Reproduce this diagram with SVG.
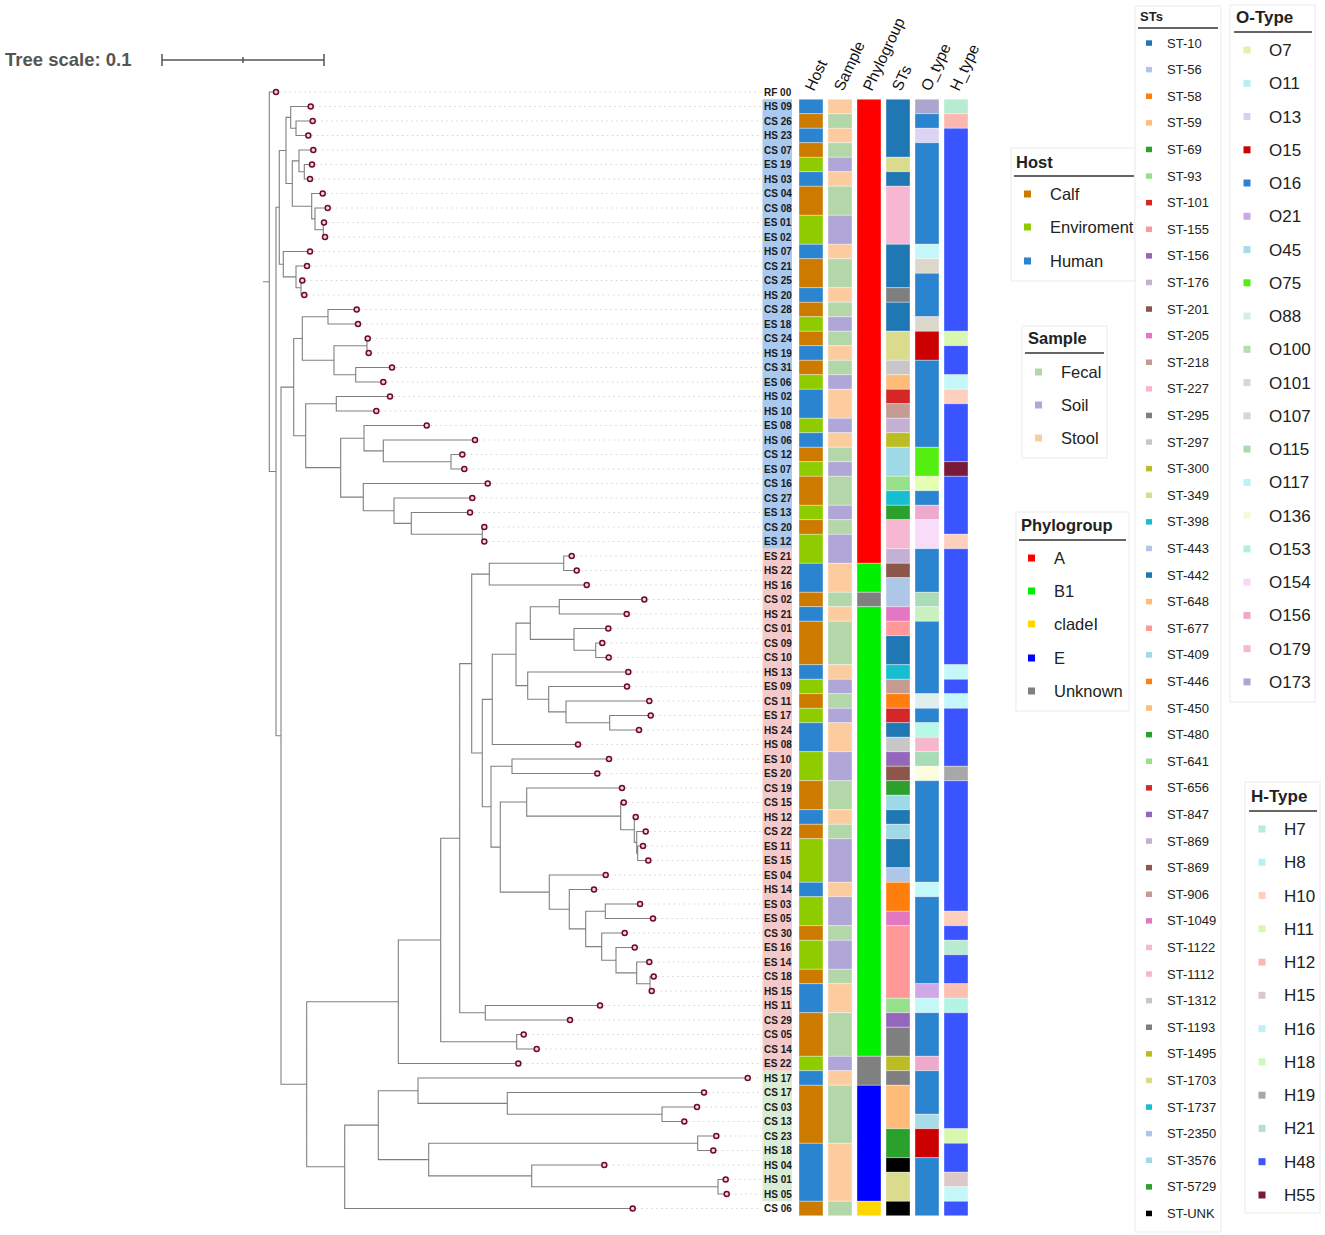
<svg xmlns="http://www.w3.org/2000/svg" width="1325" height="1235" viewBox="0 0 1325 1235">
<style>
text{font-family:"Liberation Sans",Arial,sans-serif}
.tr{fill:none;stroke:#808080;stroke-width:1.1}
.gd{fill:none;stroke:#d4d4d4;stroke-width:1;stroke-dasharray:1.5 3.5}
.tip{fill:#f3d3dc;stroke:#6e0a2e;stroke-width:1.5}
.lb{font-size:10px;font-weight:bold;fill:#1a1a1a}
.hd{font-size:15.5px;fill:#111}
.cl rect{stroke:#ffffff;stroke-opacity:0.45;stroke-width:0.8}
.hH{fill:#2a84d0}.hC{fill:#cc7a00}.hE{fill:#8ecc00}
.sF{fill:#b4d7a9}.sS{fill:#b1a6d8}.sT{fill:#fccc9f}
.pA{fill:#ff0000}.pB{fill:#00f000}.pU{fill:#808080}.pE{fill:#0000ff}.pC{fill:#ffd700}
.oB{fill:#2a84d0}.h48{fill:#3a55ff}
.box{fill:#ffffff;stroke:#ebebeb;stroke-width:1}
.lt{font-weight:bold;fill:#222}
.ul{stroke:#333;stroke-width:1.3}
.l16{font-size:16.5px;fill:#222}
.l13{font-size:13px;fill:#222}
.l17{font-size:17px;fill:#222}
</style>

<g id="scale">
<text x="5" y="66" style="font-size:18.5px;font-weight:bold;fill:#555">Tree scale: 0.1</text>
<path d="M162,60H324M162,54V66M324,54V66M243,57V63" stroke="#555" stroke-width="1.5" fill="none"/>
</g>

<g id="connectors">
<path class="gd" d="M279.5,92H761M314.2,106.5H761M316.2,121H761M311.8,135.5H761M316.8,150H761M315.5,164.5H761M313.5,179H761M326.2,193.5H761M331.2,208H761M327.5,222.5H761M328.5,237H761M313.5,251.5H761M310.5,266H761M305.8,280.5H761M307.8,295H761M360.2,309.5H761M361.5,324H761M371.2,338.5H761M372.2,353H761M395.5,367.5H761M386.8,382H761M393.5,396.5H761M379.8,411H761M430.2,425.5H761M478.5,440H761M465.8,454.5H761M467.8,469H761M491.2,483.5H761M475.8,498H761M473.5,512.5H761M487.8,527H761M487.8,541.5H761M575.2,556H761M580.2,570.5H761M590.2,585H761M647.8,599.5H761M630.2,614H761M611.8,628.5H761M605.8,643H761M612.2,657.5H761M631.8,672H761M630.5,686.5H761M652.8,701H761M654.2,715.5H761M642.5,730H761M581.5,744.5H761M612.5,759H761M600.8,773.5H761M625.5,788H761M627.2,802.5H761M639.2,817H761M649.2,831.5H761M646.5,846H761M651.8,860.5H761M609.2,875H761M597.5,889.5H761M643.5,904H761M656.5,918.5H761M628.2,933H761M638.2,947.5H761M652.8,962H761M657.2,976.5H761M655.2,991H761M603.5,1005.5H761M573.5,1020H761M527.2,1034.5H761M540.2,1049H761M521.8,1063.5H761M751.2,1078H761M707.5,1092.5H761M700.5,1107H761M687.8,1121.5H761M719.8,1136H761M716.8,1150.5H761M607.8,1165H761M729.2,1179.5H761M730.2,1194H761M636.2,1208.5H761"/>
<path class="tr" d="M276,92H269.3V471.5H276M263,281.75H269.3
M279.3,207.3H276V735.7H281
M286,150.5H279.3V264.2H283.3
M290.7,117.4H286V183.5H292.3
M310.7,106.5H290.7V128.25H296
M312.7,121H296V135.5H308.3
M299,160.9H292.3V206.2H311.7
M313.3,150H299V171.75H304.3
M312,164.5H304.3V179H310
M322.7,193.5H311.7V218.9H315
M327.7,208H315V229.75H323.3
M324,222.5H323.3V237H325
M310,251.5H283.3V276.9H296
M307,266H296V287.75H301
M302.3,280.5H301V295H304.3
M293.7,387.1H281V1084.3H306.7
M302.3,338.5H293.7V435.7H305.7
M328,316.75H302.3V360.25H334
M356.7,309.5H328V324H358
M367,345.75H334V374.75H355.7
M367.7,338.5H367V353H368.7
M392,367.5H355.7V382H383.3
M336.3,403.75H305.7V467.6H340.7
M390,396.5H336.3V411H376.3
M364,438.2H340.7V497.1H363.3
M426.7,425.5H364V450.9H383.3
M475,440H383.3V461.75H451
M462.3,454.5H451V469H464.3
M487.7,483.5H363.3V510.7H394
M472.3,498H394V523.4H411.3
M470,512.5H411.3V534.25H482.3
M484.3,527H482.3V541.5H484.3
M398.3,1001.75H306.7V1166.8H344.7
M440.7,940H398.3V1063.5H518.3
M459.7,838.2H440.7V1041.75H516.7
M523.7,1034.5H516.7V1049H536.7
M471.7,663.6H459.7V1012.75H485.3
M600,1005.5H485.3V1020H570
M489.3,574.1H471.7V753.05H482.3
M563.7,563.25H489.3V585H586.7
M571.7,556H563.7V570.5H576.7
M492.3,699.4H482.3V806.7H491
M516,654.3H492.3V744.5H578
M530.3,623.1H516V685.6H527.7
M559.3,606.75H530.3V639.4H574
M644.3,599.5H559.3V614H626.7
M608.3,628.5H574V650.25H595.7
M602.3,643H595.7V657.5H608.7
M628.3,672H527.7V699.2H548.7
M627,686.5H548.7V711.9H566
M649.3,701H566V722.75H609.7
M650.7,715.5H609.7V730H639
M512,766.25H491V847.1H500.3
M609,759H512V773.5H597.3
M526.7,802.05H500.3V892.1H549.3
M622,788H526.7V816.1H620.7
M623.7,802.5H620.7V829.7H634.3
M635.7,817H634.3V842.4H636.7
M645.7,831.5H636.7V853.25H637.7
M643,846H637.7V860.5H648.3
M605.7,875H549.3V909.2H569.3
M594,889.5H569.3V928.9H585.7
M605.3,911.25H585.7V946.6H601.7
M640,904H605.3V918.5H653
M624.7,933H601.7V960.2H616
M634.7,947.5H616V972.9H636.7
M649.3,962H636.7V983.75H650
M653.7,976.5H650V991H651.7
M378.3,1125.1H344.7V1208.5H632.7
M418,1090.7H378.3V1159.6H428.7
M747.7,1078H418V1103.4H507.3
M704,1092.5H507.3V1114.25H662
M697,1107H662V1121.5H684.3
M697.7,1143.25H428.7V1175.9H531.7
M716.3,1136H697.7V1150.5H713.3
M604.3,1165H531.7V1186.75H718
M725.7,1179.5H718V1194H726.7"/>
</g>

<g id="tips">
<circle class="tip" r="2.5" cx="276" cy="92"/><circle class="tip" r="2.5" cx="310.7" cy="106.5"/><circle class="tip" r="2.5" cx="312.7" cy="121"/><circle class="tip" r="2.5" cx="308.3" cy="135.5"/><circle class="tip" r="2.5" cx="313.3" cy="150"/><circle class="tip" r="2.5" cx="312" cy="164.5"/><circle class="tip" r="2.5" cx="310" cy="179"/><circle class="tip" r="2.5" cx="322.7" cy="193.5"/><circle class="tip" r="2.5" cx="327.7" cy="208"/><circle class="tip" r="2.5" cx="324" cy="222.5"/><circle class="tip" r="2.5" cx="325" cy="237"/><circle class="tip" r="2.5" cx="310" cy="251.5"/><circle class="tip" r="2.5" cx="307" cy="266"/><circle class="tip" r="2.5" cx="302.3" cy="280.5"/><circle class="tip" r="2.5" cx="304.3" cy="295"/><circle class="tip" r="2.5" cx="356.7" cy="309.5"/><circle class="tip" r="2.5" cx="358" cy="324"/><circle class="tip" r="2.5" cx="367.7" cy="338.5"/><circle class="tip" r="2.5" cx="368.7" cy="353"/><circle class="tip" r="2.5" cx="392" cy="367.5"/><circle class="tip" r="2.5" cx="383.3" cy="382"/><circle class="tip" r="2.5" cx="390" cy="396.5"/><circle class="tip" r="2.5" cx="376.3" cy="411"/><circle class="tip" r="2.5" cx="426.7" cy="425.5"/><circle class="tip" r="2.5" cx="475" cy="440"/><circle class="tip" r="2.5" cx="462.3" cy="454.5"/><circle class="tip" r="2.5" cx="464.3" cy="469"/><circle class="tip" r="2.5" cx="487.7" cy="483.5"/><circle class="tip" r="2.5" cx="472.3" cy="498"/><circle class="tip" r="2.5" cx="470" cy="512.5"/><circle class="tip" r="2.5" cx="484.3" cy="527"/><circle class="tip" r="2.5" cx="484.3" cy="541.5"/><circle class="tip" r="2.5" cx="571.7" cy="556"/><circle class="tip" r="2.5" cx="576.7" cy="570.5"/><circle class="tip" r="2.5" cx="586.7" cy="585"/><circle class="tip" r="2.5" cx="644.3" cy="599.5"/><circle class="tip" r="2.5" cx="626.7" cy="614"/><circle class="tip" r="2.5" cx="608.3" cy="628.5"/><circle class="tip" r="2.5" cx="602.3" cy="643"/><circle class="tip" r="2.5" cx="608.7" cy="657.5"/><circle class="tip" r="2.5" cx="628.3" cy="672"/><circle class="tip" r="2.5" cx="627" cy="686.5"/><circle class="tip" r="2.5" cx="649.3" cy="701"/><circle class="tip" r="2.5" cx="650.7" cy="715.5"/><circle class="tip" r="2.5" cx="639" cy="730"/><circle class="tip" r="2.5" cx="578" cy="744.5"/><circle class="tip" r="2.5" cx="609" cy="759"/><circle class="tip" r="2.5" cx="597.3" cy="773.5"/><circle class="tip" r="2.5" cx="622" cy="788"/><circle class="tip" r="2.5" cx="623.7" cy="802.5"/><circle class="tip" r="2.5" cx="635.7" cy="817"/><circle class="tip" r="2.5" cx="645.7" cy="831.5"/><circle class="tip" r="2.5" cx="643" cy="846"/><circle class="tip" r="2.5" cx="648.3" cy="860.5"/><circle class="tip" r="2.5" cx="605.7" cy="875"/><circle class="tip" r="2.5" cx="594" cy="889.5"/><circle class="tip" r="2.5" cx="640" cy="904"/><circle class="tip" r="2.5" cx="653" cy="918.5"/><circle class="tip" r="2.5" cx="624.7" cy="933"/><circle class="tip" r="2.5" cx="634.7" cy="947.5"/><circle class="tip" r="2.5" cx="649.3" cy="962"/><circle class="tip" r="2.5" cx="653.7" cy="976.5"/><circle class="tip" r="2.5" cx="651.7" cy="991"/><circle class="tip" r="2.5" cx="600" cy="1005.5"/><circle class="tip" r="2.5" cx="570" cy="1020"/><circle class="tip" r="2.5" cx="523.7" cy="1034.5"/><circle class="tip" r="2.5" cx="536.7" cy="1049"/><circle class="tip" r="2.5" cx="518.3" cy="1063.5"/><circle class="tip" r="2.5" cx="747.7" cy="1078"/><circle class="tip" r="2.5" cx="704" cy="1092.5"/><circle class="tip" r="2.5" cx="697" cy="1107"/><circle class="tip" r="2.5" cx="684.3" cy="1121.5"/><circle class="tip" r="2.5" cx="716.3" cy="1136"/><circle class="tip" r="2.5" cx="713.3" cy="1150.5"/><circle class="tip" r="2.5" cx="604.3" cy="1165"/><circle class="tip" r="2.5" cx="725.7" cy="1179.5"/><circle class="tip" r="2.5" cx="726.7" cy="1194"/><circle class="tip" r="2.5" cx="632.7" cy="1208.5"/>
</g>

<g id="labelbg">
<rect x="762.5" y="99.25" width="29.5" height="449.5" fill="#a9c9ee"/>
<rect x="762.5" y="548.75" width="29.5" height="522" fill="#f5c9c9"/>
<rect x="762.5" y="1070.75" width="29.5" height="130.5" fill="#d9ecd6"/>
</g>

<g id="labels" class="lb">
<text x="764" y="95.5">RF 00</text><text x="764" y="110">HS 09</text><text x="764" y="124.5">CS 26</text><text x="764" y="139">HS 23</text><text x="764" y="153.5">CS 07</text><text x="764" y="168">ES 19</text><text x="764" y="182.5">HS 03</text><text x="764" y="197">CS 04</text><text x="764" y="211.5">CS 08</text><text x="764" y="226">ES 01</text><text x="764" y="240.5">ES 02</text><text x="764" y="255">HS 07</text><text x="764" y="269.5">CS 21</text><text x="764" y="284">CS 25</text><text x="764" y="298.5">HS 20</text><text x="764" y="313">CS 28</text><text x="764" y="327.5">ES 18</text><text x="764" y="342">CS 24</text><text x="764" y="356.5">HS 19</text><text x="764" y="371">CS 31</text><text x="764" y="385.5">ES 06</text><text x="764" y="400">HS 02</text><text x="764" y="414.5">HS 10</text><text x="764" y="429">ES 08</text><text x="764" y="443.5">HS 06</text><text x="764" y="458">CS 12</text><text x="764" y="472.5">ES 07</text><text x="764" y="487">CS 16</text><text x="764" y="501.5">CS 27</text><text x="764" y="516">ES 13</text><text x="764" y="530.5">CS 20</text><text x="764" y="545">ES 12</text><text x="764" y="559.5">ES 21</text><text x="764" y="574">HS 22</text><text x="764" y="588.5">HS 16</text><text x="764" y="603">CS 02</text><text x="764" y="617.5">HS 21</text><text x="764" y="632">CS 01</text><text x="764" y="646.5">CS 09</text><text x="764" y="661">CS 10</text><text x="764" y="675.5">HS 13</text><text x="764" y="690">ES 09</text><text x="764" y="704.5">CS 11</text><text x="764" y="719">ES 17</text><text x="764" y="733.5">HS 24</text><text x="764" y="748">HS 08</text><text x="764" y="762.5">ES 10</text><text x="764" y="777">ES 20</text><text x="764" y="791.5">CS 19</text><text x="764" y="806">CS 15</text><text x="764" y="820.5">HS 12</text><text x="764" y="835">CS 22</text><text x="764" y="849.5">ES 11</text><text x="764" y="864">ES 15</text><text x="764" y="878.5">ES 04</text><text x="764" y="893">HS 14</text><text x="764" y="907.5">ES 03</text><text x="764" y="922">ES 05</text><text x="764" y="936.5">CS 30</text><text x="764" y="951">ES 16</text><text x="764" y="965.5">ES 14</text><text x="764" y="980">CS 18</text><text x="764" y="994.5">HS 15</text><text x="764" y="1009">HS 11</text><text x="764" y="1023.5">CS 29</text><text x="764" y="1038">CS 05</text><text x="764" y="1052.5">CS 14</text><text x="764" y="1067">ES 22</text><text x="764" y="1081.5">HS 17</text><text x="764" y="1096">CS 17</text><text x="764" y="1110.5">CS 03</text><text x="764" y="1125">CS 13</text><text x="764" y="1139.5">CS 23</text><text x="764" y="1154">HS 18</text><text x="764" y="1168.5">HS 04</text><text x="764" y="1183">HS 01</text><text x="764" y="1197.5">HS 05</text><text x="764" y="1212">CS 06</text>
</g>

<g id="headers" class="hd">
<text transform="translate(814,92) rotate(-65)">Host</text>
<text transform="translate(843,92) rotate(-65)">Sample</text>
<text transform="translate(872,92) rotate(-65)">Phylogroup</text>
<text transform="translate(901,92) rotate(-65)">STs</text>
<text transform="translate(930,92) rotate(-65)">O_type</text>
<text transform="translate(959,92) rotate(-65)">H_type</text>
</g>

<g id="col-host" class="cl">
<rect x="799" width="24" y="99.25" height="14.5" class="hH"/><rect x="799" width="24" y="113.75" height="14.5" class="hC"/><rect x="799" width="24" y="128.25" height="14.5" class="hH"/><rect x="799" width="24" y="142.75" height="14.5" class="hC"/><rect x="799" width="24" y="157.25" height="14.5" class="hE"/><rect x="799" width="24" y="171.75" height="14.5" class="hH"/><rect x="799" width="24" y="186.25" height="29" class="hC"/><rect x="799" width="24" y="215.25" height="29" class="hE"/><rect x="799" width="24" y="244.25" height="14.5" class="hH"/><rect x="799" width="24" y="258.75" height="29" class="hC"/><rect x="799" width="24" y="287.75" height="14.5" class="hH"/><rect x="799" width="24" y="302.25" height="14.5" class="hC"/><rect x="799" width="24" y="316.75" height="14.5" class="hE"/><rect x="799" width="24" y="331.25" height="14.5" class="hC"/><rect x="799" width="24" y="345.75" height="14.5" class="hH"/><rect x="799" width="24" y="360.25" height="14.5" class="hC"/><rect x="799" width="24" y="374.75" height="14.5" class="hE"/><rect x="799" width="24" y="389.25" height="29" class="hH"/><rect x="799" width="24" y="418.25" height="14.5" class="hE"/><rect x="799" width="24" y="432.75" height="14.5" class="hH"/><rect x="799" width="24" y="447.25" height="14.5" class="hC"/><rect x="799" width="24" y="461.75" height="14.5" class="hE"/><rect x="799" width="24" y="476.25" height="29" class="hC"/><rect x="799" width="24" y="505.25" height="14.5" class="hE"/><rect x="799" width="24" y="519.75" height="14.5" class="hC"/><rect x="799" width="24" y="534.25" height="29" class="hE"/><rect x="799" width="24" y="563.25" height="29" class="hH"/><rect x="799" width="24" y="592.25" height="14.5" class="hC"/><rect x="799" width="24" y="606.75" height="14.5" class="hH"/><rect x="799" width="24" y="621.25" height="43.5" class="hC"/><rect x="799" width="24" y="664.75" height="14.5" class="hH"/><rect x="799" width="24" y="679.25" height="14.5" class="hE"/><rect x="799" width="24" y="693.75" height="14.5" class="hC"/><rect x="799" width="24" y="708.25" height="14.5" class="hE"/><rect x="799" width="24" y="722.75" height="29" class="hH"/><rect x="799" width="24" y="751.75" height="29" class="hE"/><rect x="799" width="24" y="780.75" height="29" class="hC"/><rect x="799" width="24" y="809.75" height="14.5" class="hH"/><rect x="799" width="24" y="824.25" height="14.5" class="hC"/><rect x="799" width="24" y="838.75" height="43.5" class="hE"/><rect x="799" width="24" y="882.25" height="14.5" class="hH"/><rect x="799" width="24" y="896.75" height="29" class="hE"/><rect x="799" width="24" y="925.75" height="14.5" class="hC"/><rect x="799" width="24" y="940.25" height="29" class="hE"/><rect x="799" width="24" y="969.25" height="14.5" class="hC"/><rect x="799" width="24" y="983.75" height="29" class="hH"/><rect x="799" width="24" y="1012.75" height="43.5" class="hC"/><rect x="799" width="24" y="1056.25" height="14.5" class="hE"/><rect x="799" width="24" y="1070.75" height="14.5" class="hH"/><rect x="799" width="24" y="1085.25" height="58" class="hC"/><rect x="799" width="24" y="1143.25" height="58" class="hH"/><rect x="799" width="24" y="1201.25" height="14.5" class="hC"/>
</g>

<g id="col-sample" class="cl">
<rect x="828" width="24" y="99.25" height="14.5" class="sT"/><rect x="828" width="24" y="113.75" height="14.5" class="sF"/><rect x="828" width="24" y="128.25" height="14.5" class="sT"/><rect x="828" width="24" y="142.75" height="14.5" class="sF"/><rect x="828" width="24" y="157.25" height="14.5" class="sS"/><rect x="828" width="24" y="171.75" height="14.5" class="sT"/><rect x="828" width="24" y="186.25" height="29" class="sF"/><rect x="828" width="24" y="215.25" height="29" class="sS"/><rect x="828" width="24" y="244.25" height="14.5" class="sT"/><rect x="828" width="24" y="258.75" height="29" class="sF"/><rect x="828" width="24" y="287.75" height="14.5" class="sT"/><rect x="828" width="24" y="302.25" height="14.5" class="sF"/><rect x="828" width="24" y="316.75" height="14.5" class="sS"/><rect x="828" width="24" y="331.25" height="14.5" class="sF"/><rect x="828" width="24" y="345.75" height="14.5" class="sT"/><rect x="828" width="24" y="360.25" height="14.5" class="sF"/><rect x="828" width="24" y="374.75" height="14.5" class="sS"/><rect x="828" width="24" y="389.25" height="29" class="sT"/><rect x="828" width="24" y="418.25" height="14.5" class="sS"/><rect x="828" width="24" y="432.75" height="14.5" class="sT"/><rect x="828" width="24" y="447.25" height="14.5" class="sF"/><rect x="828" width="24" y="461.75" height="14.5" class="sS"/><rect x="828" width="24" y="476.25" height="29" class="sF"/><rect x="828" width="24" y="505.25" height="14.5" class="sS"/><rect x="828" width="24" y="519.75" height="14.5" class="sF"/><rect x="828" width="24" y="534.25" height="29" class="sS"/><rect x="828" width="24" y="563.25" height="29" class="sT"/><rect x="828" width="24" y="592.25" height="14.5" class="sF"/><rect x="828" width="24" y="606.75" height="14.5" class="sT"/><rect x="828" width="24" y="621.25" height="43.5" class="sF"/><rect x="828" width="24" y="664.75" height="14.5" class="sT"/><rect x="828" width="24" y="679.25" height="14.5" class="sS"/><rect x="828" width="24" y="693.75" height="14.5" class="sF"/><rect x="828" width="24" y="708.25" height="14.5" class="sS"/><rect x="828" width="24" y="722.75" height="29" class="sT"/><rect x="828" width="24" y="751.75" height="29" class="sS"/><rect x="828" width="24" y="780.75" height="29" class="sF"/><rect x="828" width="24" y="809.75" height="14.5" class="sT"/><rect x="828" width="24" y="824.25" height="14.5" class="sF"/><rect x="828" width="24" y="838.75" height="43.5" class="sS"/><rect x="828" width="24" y="882.25" height="14.5" class="sT"/><rect x="828" width="24" y="896.75" height="29" class="sS"/><rect x="828" width="24" y="925.75" height="14.5" class="sF"/><rect x="828" width="24" y="940.25" height="29" class="sS"/><rect x="828" width="24" y="969.25" height="14.5" class="sF"/><rect x="828" width="24" y="983.75" height="29" class="sT"/><rect x="828" width="24" y="1012.75" height="43.5" class="sF"/><rect x="828" width="24" y="1056.25" height="14.5" class="sS"/><rect x="828" width="24" y="1070.75" height="14.5" class="sT"/><rect x="828" width="24" y="1085.25" height="58" class="sF"/><rect x="828" width="24" y="1143.25" height="58" class="sT"/><rect x="828" width="24" y="1201.25" height="14.5" class="sF"/>
</g>

<g id="col-phylo" class="cl">
<rect x="857" width="24" y="99.25" height="464" class="pA"/>
<rect x="857" width="24" y="563.25" height="29" class="pB"/>
<rect x="857" width="24" y="592.25" height="14.5" class="pU"/>
<rect x="857" width="24" y="606.75" height="449.5" class="pB"/>
<rect x="857" width="24" y="1056.25" height="29" class="pU"/>
<rect x="857" width="24" y="1085.25" height="116" class="pE"/>
<rect x="857" width="24" y="1201.25" height="14.5" class="pC"/>
</g>

<g id="col-sts" class="cl">
<rect x="886" width="24" y="99.25" height="58" fill="#1f77b4"/><rect x="886" width="24" y="157.25" height="14.5" fill="#dbdb8d"/><rect x="886" width="24" y="171.75" height="14.5" fill="#1f77b4"/><rect x="886" width="24" y="186.25" height="58" fill="#f7b6d2"/><rect x="886" width="24" y="244.25" height="43.5" fill="#1f77b4"/><rect x="886" width="24" y="287.75" height="14.5" fill="#7f7f7f"/><rect x="886" width="24" y="302.25" height="29" fill="#1f77b4"/><rect x="886" width="24" y="331.25" height="29" fill="#dbdb8d"/><rect x="886" width="24" y="360.25" height="14.5" fill="#c7c7c7"/><rect x="886" width="24" y="374.75" height="14.5" fill="#ffbb78"/><rect x="886" width="24" y="389.25" height="14.5" fill="#d62728"/><rect x="886" width="24" y="403.75" height="14.5" fill="#c49c94"/><rect x="886" width="24" y="418.25" height="14.5" fill="#c5b0d5"/><rect x="886" width="24" y="432.75" height="14.5" fill="#bcbd22"/><rect x="886" width="24" y="447.25" height="29" fill="#9edae5"/><rect x="886" width="24" y="476.25" height="14.5" fill="#98df8a"/><rect x="886" width="24" y="490.75" height="14.5" fill="#17becf"/><rect x="886" width="24" y="505.25" height="14.5" fill="#2ca02c"/><rect x="886" width="24" y="519.75" height="29" fill="#f7b6d2"/><rect x="886" width="24" y="548.75" height="14.5" fill="#c5b0d5"/><rect x="886" width="24" y="563.25" height="14.5" fill="#8c564b"/><rect x="886" width="24" y="577.75" height="29" fill="#aec7e8"/><rect x="886" width="24" y="606.75" height="14.5" fill="#e377c2"/><rect x="886" width="24" y="621.25" height="14.5" fill="#ff9896"/><rect x="886" width="24" y="635.75" height="29" fill="#1f77b4"/><rect x="886" width="24" y="664.75" height="14.5" fill="#17becf"/><rect x="886" width="24" y="679.25" height="14.5" fill="#c49c94"/><rect x="886" width="24" y="693.75" height="14.5" fill="#ff7f0e"/><rect x="886" width="24" y="708.25" height="14.5" fill="#d62728"/><rect x="886" width="24" y="722.75" height="14.5" fill="#1f77b4"/><rect x="886" width="24" y="737.25" height="14.5" fill="#c7c7c7"/><rect x="886" width="24" y="751.75" height="14.5" fill="#9467bd"/><rect x="886" width="24" y="766.25" height="14.5" fill="#8c564b"/><rect x="886" width="24" y="780.75" height="14.5" fill="#2ca02c"/><rect x="886" width="24" y="795.25" height="14.5" fill="#9edae5"/><rect x="886" width="24" y="809.75" height="14.5" fill="#1f77b4"/><rect x="886" width="24" y="824.25" height="14.5" fill="#9edae5"/><rect x="886" width="24" y="838.75" height="29" fill="#1f77b4"/><rect x="886" width="24" y="867.75" height="14.5" fill="#aec7e8"/><rect x="886" width="24" y="882.25" height="29" fill="#ff7f0e"/><rect x="886" width="24" y="911.25" height="14.5" fill="#e377c2"/><rect x="886" width="24" y="925.75" height="72.5" fill="#ff9896"/><rect x="886" width="24" y="998.25" height="14.5" fill="#98df8a"/><rect x="886" width="24" y="1012.75" height="14.5" fill="#9467bd"/><rect x="886" width="24" y="1027.25" height="29" fill="#7f7f7f"/><rect x="886" width="24" y="1056.25" height="14.5" fill="#bcbd22"/><rect x="886" width="24" y="1070.75" height="14.5" fill="#7f7f7f"/><rect x="886" width="24" y="1085.25" height="43.5" fill="#ffbb78"/><rect x="886" width="24" y="1128.75" height="29" fill="#2ca02c"/><rect x="886" width="24" y="1157.75" height="14.5" fill="#000000"/><rect x="886" width="24" y="1172.25" height="29" fill="#dbdb8d"/><rect x="886" width="24" y="1201.25" height="14.5" fill="#000000"/>
</g>

<g id="col-otype" class="cl">
<rect x="915" width="24" y="99.25" height="14.5" fill="#aaa6cc"/><rect x="915" width="24" y="113.75" height="14.5" class="oB"/><rect x="915" width="24" y="128.25" height="14.5" fill="#dcd4f4"/><rect x="915" width="24" y="142.75" height="101.5" class="oB"/><rect x="915" width="24" y="244.25" height="14.5" fill="#c4f8f8"/><rect x="915" width="24" y="258.75" height="14.5" fill="#dcd8cc"/><rect x="915" width="24" y="273.25" height="43.5" class="oB"/><rect x="915" width="24" y="316.75" height="14.5" fill="#dcd8cc"/><rect x="915" width="24" y="331.25" height="29" fill="#cc0000"/><rect x="915" width="24" y="360.25" height="87" class="oB"/><rect x="915" width="24" y="447.25" height="29" fill="#55ee11"/><rect x="915" width="24" y="476.25" height="14.5" fill="#e4ffb4"/><rect x="915" width="24" y="490.75" height="14.5" class="oB"/><rect x="915" width="24" y="505.25" height="14.5" fill="#eeaacc"/><rect x="915" width="24" y="519.75" height="29" fill="#f8dcf8"/><rect x="915" width="24" y="548.75" height="43.5" class="oB"/><rect x="915" width="24" y="592.25" height="14.5" fill="#aadcb8"/><rect x="915" width="24" y="606.75" height="14.5" fill="#c8f0c0"/><rect x="915" width="24" y="621.25" height="72.5" class="oB"/><rect x="915" width="24" y="693.75" height="14.5" fill="#e0eeee"/><rect x="915" width="24" y="708.25" height="14.5" class="oB"/><rect x="915" width="24" y="722.75" height="14.5" fill="#b8f8e8"/><rect x="915" width="24" y="737.25" height="14.5" fill="#f8b8cc"/><rect x="915" width="24" y="751.75" height="14.5" fill="#a8dcb4"/><rect x="915" width="24" y="766.25" height="14.5" fill="#fcfce0"/><rect x="915" width="24" y="780.75" height="101.5" class="oB"/><rect x="915" width="24" y="882.25" height="14.5" fill="#c4f8f8"/><rect x="915" width="24" y="896.75" height="87" class="oB"/><rect x="915" width="24" y="983.75" height="14.5" fill="#d0a8e8"/><rect x="915" width="24" y="998.25" height="14.5" fill="#c4f8f8"/><rect x="915" width="24" y="1012.75" height="43.5" class="oB"/><rect x="915" width="24" y="1056.25" height="14.5" fill="#eeaacc"/><rect x="915" width="24" y="1070.75" height="43.5" class="oB"/><rect x="915" width="24" y="1114.25" height="14.5" fill="#a8dce8"/><rect x="915" width="24" y="1128.75" height="29" fill="#cc0000"/><rect x="915" width="24" y="1157.75" height="58" class="oB"/>
</g>

<g id="col-htype" class="cl">
<rect x="944" width="24" y="99.25" height="14.5" fill="#b8ecd0"/><rect x="944" width="24" y="113.75" height="14.5" fill="#fcb8b0"/><rect x="944" width="24" y="128.25" height="203" class="h48"/><rect x="944" width="24" y="331.25" height="14.5" fill="#d8f8b0"/><rect x="944" width="24" y="345.75" height="29" class="h48"/><rect x="944" width="24" y="374.75" height="14.5" fill="#c4f8f8"/><rect x="944" width="24" y="389.25" height="14.5" fill="#fcd0bc"/><rect x="944" width="24" y="403.75" height="58" class="h48"/><rect x="944" width="24" y="461.75" height="14.5" fill="#7a1a3a"/><rect x="944" width="24" y="476.25" height="58" class="h48"/><rect x="944" width="24" y="534.25" height="14.5" fill="#fcd0bc"/><rect x="944" width="24" y="548.75" height="116" class="h48"/><rect x="944" width="24" y="664.75" height="14.5" fill="#c4f8f8"/><rect x="944" width="24" y="679.25" height="14.5" class="h48"/><rect x="944" width="24" y="693.75" height="14.5" fill="#c4f8f8"/><rect x="944" width="24" y="708.25" height="58" class="h48"/><rect x="944" width="24" y="766.25" height="14.5" fill="#a8a8a8"/><rect x="944" width="24" y="780.75" height="130.5" class="h48"/><rect x="944" width="24" y="911.25" height="14.5" fill="#fcd0bc"/><rect x="944" width="24" y="925.75" height="14.5" class="h48"/><rect x="944" width="24" y="940.25" height="14.5" fill="#b8ecd0"/><rect x="944" width="24" y="954.75" height="29" class="h48"/><rect x="944" width="24" y="983.75" height="14.5" fill="#fcc0b0"/><rect x="944" width="24" y="998.25" height="14.5" fill="#b0f4e4"/><rect x="944" width="24" y="1012.75" height="116" class="h48"/><rect x="944" width="24" y="1128.75" height="14.5" fill="#d8f8b0"/><rect x="944" width="24" y="1143.25" height="29" class="h48"/><rect x="944" width="24" y="1172.25" height="14.5" fill="#dcc8c8"/><rect x="944" width="24" y="1186.75" height="14.5" fill="#c4f8f8"/><rect x="944" width="24" y="1201.25" height="14.5" class="h48"/>
</g>

<g id="legend-host">
<rect class="box" x="1011" y="148" width="124" height="133"/>
<text class="lt" x="1016" y="168" font-size="16.5">Host</text>
<line class="ul" x1="1014" y1="176" x2="1134" y2="176"/>
<rect x="1024" y="190.5" width="7" height="7" class="hC"/><text class="l16" x="1050" y="200">Calf</text>
<rect x="1024" y="223.5" width="7" height="7" class="hE"/><text class="l16" x="1050" y="233">Enviroment</text>
<rect x="1024" y="257.5" width="7" height="7" class="hH"/><text class="l16" x="1050" y="267">Human</text>
</g>

<g id="legend-sample">
<rect class="box" x="1022" y="326" width="85" height="132"/>
<text class="lt" x="1028" y="344" font-size="16.5">Sample</text>
<line class="ul" x1="1025" y1="353" x2="1104" y2="353"/>
<rect x="1035" y="368.5" width="7" height="7" class="sF"/><text class="l16" x="1061" y="378">Fecal</text>
<rect x="1035" y="401.5" width="7" height="7" class="sS"/><text class="l16" x="1061" y="411">Soil</text>
<rect x="1035" y="434.5" width="7" height="7" class="sT"/><text class="l16" x="1061" y="444">Stool</text>
</g>

<g id="legend-phylo">
<rect class="box" x="1016" y="512" width="113" height="199"/>
<text class="lt" x="1021" y="531" font-size="16.5">Phylogroup</text>
<line class="ul" x1="1019" y1="540" x2="1126" y2="540"/>
<rect x="1028" y="554.5" width="7" height="7" class="pA"/><text class="l16" x="1054" y="564">A</text>
<rect x="1028" y="587.5" width="7" height="7" class="pB"/><text class="l16" x="1054" y="597">B1</text>
<rect x="1028" y="620.5" width="7" height="7" class="pC"/><text class="l16" x="1054" y="630">cladeI</text>
<rect x="1028" y="654.5" width="7" height="7" class="pE"/><text class="l16" x="1054" y="664">E</text>
<rect x="1028" y="687.5" width="7" height="7" class="pU"/><text class="l16" x="1054" y="697">Unknown</text>
</g>

<g id="legend-sts">
<rect class="box" x="1135" y="6" width="86" height="1226"/>
<text class="lt" x="1140" y="21" font-size="13">STs</text>
<line class="ul" x1="1138" y1="28" x2="1218" y2="28"/>
<g class="l13">
<rect x="1146" y="40.3" width="6" height="5.5" fill="#1f77b4"/><text x="1167" y="47.5">ST-10</text>
<rect x="1146" y="66.9" width="6" height="5.5" fill="#aec7e8"/><text x="1167" y="74.1">ST-56</text>
<rect x="1146" y="93.5" width="6" height="5.5" fill="#ff7f0e"/><text x="1167" y="100.7">ST-58</text>
<rect x="1146" y="120.1" width="6" height="5.5" fill="#ffbb78"/><text x="1167" y="127.3">ST-59</text>
<rect x="1146" y="146.7" width="6" height="5.5" fill="#2ca02c"/><text x="1167" y="153.9">ST-69</text>
<rect x="1146" y="173.3" width="6" height="5.5" fill="#98df8a"/><text x="1167" y="180.5">ST-93</text>
<rect x="1146" y="199.9" width="6" height="5.5" fill="#d62728"/><text x="1167" y="207.1">ST-101</text>
<rect x="1146" y="226.5" width="6" height="5.5" fill="#ff9896"/><text x="1167" y="233.7">ST-155</text>
<rect x="1146" y="253.1" width="6" height="5.5" fill="#9467bd"/><text x="1167" y="260.3">ST-156</text>
<rect x="1146" y="279.7" width="6" height="5.5" fill="#c5b0d5"/><text x="1167" y="286.9">ST-176</text>
<rect x="1146" y="306.3" width="6" height="5.5" fill="#8c564b"/><text x="1167" y="313.5">ST-201</text>
<rect x="1146" y="332.9" width="6" height="5.5" fill="#e377c2"/><text x="1167" y="340.1">ST-205</text>
<rect x="1146" y="359.5" width="6" height="5.5" fill="#c49c94"/><text x="1167" y="366.7">ST-218</text>
<rect x="1146" y="386.1" width="6" height="5.5" fill="#f7b6d2"/><text x="1167" y="393.3">ST-227</text>
<rect x="1146" y="412.7" width="6" height="5.5" fill="#7f7f7f"/><text x="1167" y="419.9">ST-295</text>
<rect x="1146" y="439.3" width="6" height="5.5" fill="#c7c7c7"/><text x="1167" y="446.5">ST-297</text>
<rect x="1146" y="465.9" width="6" height="5.5" fill="#bcbd22"/><text x="1167" y="473.1">ST-300</text>
<rect x="1146" y="492.5" width="6" height="5.5" fill="#dbdb8d"/><text x="1167" y="499.7">ST-349</text>
<rect x="1146" y="519.1" width="6" height="5.5" fill="#17becf"/><text x="1167" y="526.3">ST-398</text>
<rect x="1146" y="545.7" width="6" height="5.5" fill="#aec7e8"/><text x="1167" y="552.9">ST-443</text>
<rect x="1146" y="572.3" width="6" height="5.5" fill="#1f77b4"/><text x="1167" y="579.5">ST-442</text>
<rect x="1146" y="598.9" width="6" height="5.5" fill="#ffbb78"/><text x="1167" y="606.1">ST-648</text>
<rect x="1146" y="625.5" width="6" height="5.5" fill="#ff9896"/><text x="1167" y="632.7">ST-677</text>
<rect x="1146" y="652.1" width="6" height="5.5" fill="#9edae5"/><text x="1167" y="659.3">ST-409</text>
<rect x="1146" y="678.7" width="6" height="5.5" fill="#ff7f0e"/><text x="1167" y="685.9">ST-446</text>
<rect x="1146" y="705.3" width="6" height="5.5" fill="#ffbb78"/><text x="1167" y="712.5">ST-450</text>
<rect x="1146" y="731.9" width="6" height="5.5" fill="#2ca02c"/><text x="1167" y="739.1">ST-480</text>
<rect x="1146" y="758.5" width="6" height="5.5" fill="#98df8a"/><text x="1167" y="765.7">ST-641</text>
<rect x="1146" y="785.1" width="6" height="5.5" fill="#d62728"/><text x="1167" y="792.3">ST-656</text>
<rect x="1146" y="811.7" width="6" height="5.5" fill="#9467bd"/><text x="1167" y="818.9">ST-847</text>
<rect x="1146" y="838.3" width="6" height="5.5" fill="#c5b0d5"/><text x="1167" y="845.5">ST-869</text>
<rect x="1146" y="864.9" width="6" height="5.5" fill="#8c564b"/><text x="1167" y="872.1">ST-869</text>
<rect x="1146" y="891.5" width="6" height="5.5" fill="#c49c94"/><text x="1167" y="898.7">ST-906</text>
<rect x="1146" y="918.1" width="6" height="5.5" fill="#e377c2"/><text x="1167" y="925.3">ST-1049</text>
<rect x="1146" y="944.7" width="6" height="5.5" fill="#f7b6d2"/><text x="1167" y="951.9">ST-1122</text>
<rect x="1146" y="971.3" width="6" height="5.5" fill="#f7b6d2"/><text x="1167" y="978.5">ST-1112</text>
<rect x="1146" y="997.9" width="6" height="5.5" fill="#c7c7c7"/><text x="1167" y="1005.1">ST-1312</text>
<rect x="1146" y="1024.5" width="6" height="5.5" fill="#7f7f7f"/><text x="1167" y="1031.7">ST-1193</text>
<rect x="1146" y="1051.1" width="6" height="5.5" fill="#bcbd22"/><text x="1167" y="1058.3">ST-1495</text>
<rect x="1146" y="1077.7" width="6" height="5.5" fill="#dbdb8d"/><text x="1167" y="1084.9">ST-1703</text>
<rect x="1146" y="1104.3" width="6" height="5.5" fill="#17becf"/><text x="1167" y="1111.5">ST-1737</text>
<rect x="1146" y="1130.9" width="6" height="5.5" fill="#aec7e8"/><text x="1167" y="1138.1">ST-2350</text>
<rect x="1146" y="1157.5" width="6" height="5.5" fill="#9edae5"/><text x="1167" y="1164.7">ST-3576</text>
<rect x="1146" y="1184.1" width="6" height="5.5" fill="#2ca02c"/><text x="1167" y="1191.3">ST-5729</text>
<rect x="1146" y="1210.7" width="6" height="5.5" fill="#000000"/><text x="1167" y="1217.9">ST-UNK</text>
</g>
</g>

<g id="legend-otype">
<rect class="box" x="1230" y="5" width="85" height="697"/>
<text class="lt" x="1236" y="23" font-size="17">O-Type</text>
<line class="ul" x1="1234" y1="32" x2="1312" y2="32"/>
<g class="l17">
<rect x="1243.5" y="46.5" width="7" height="7" fill="#dcf5a8"/><text x="1269" y="56">O7</text>
<rect x="1243.5" y="79.8" width="7" height="7" fill="#b8f0f0"/><text x="1269" y="89.3">O11</text>
<rect x="1243.5" y="113" width="7" height="7" fill="#d8d0f0"/><text x="1269" y="122.5">O13</text>
<rect x="1243.5" y="146.3" width="7" height="7" fill="#cc0000"/><text x="1269" y="155.8">O15</text>
<rect x="1243.5" y="179.5" width="7" height="7" fill="#2a84d0"/><text x="1269" y="189">O16</text>
<rect x="1243.5" y="212.8" width="7" height="7" fill="#c8a8e8"/><text x="1269" y="222.3">O21</text>
<rect x="1243.5" y="246.1" width="7" height="7" fill="#a8dce8"/><text x="1269" y="255.6">O45</text>
<rect x="1243.5" y="279.3" width="7" height="7" fill="#55ee11"/><text x="1269" y="288.8">O75</text>
<rect x="1243.5" y="312.6" width="7" height="7" fill="#d8ecec"/><text x="1269" y="322.1">O88</text>
<rect x="1243.5" y="345.8" width="7" height="7" fill="#b0e0b0"/><text x="1269" y="355.3">O100</text>
<rect x="1243.5" y="379.1" width="7" height="7" fill="#d8d8cc"/><text x="1269" y="388.6">O101</text>
<rect x="1243.5" y="412.4" width="7" height="7" fill="#d8d8cc"/><text x="1269" y="421.9">O107</text>
<rect x="1243.5" y="445.6" width="7" height="7" fill="#a8dcb0"/><text x="1269" y="455.1">O115</text>
<rect x="1243.5" y="478.9" width="7" height="7" fill="#b8f4f4"/><text x="1269" y="488.4">O117</text>
<rect x="1243.5" y="512.1" width="7" height="7" fill="#f8f8dc"/><text x="1269" y="521.6">O136</text>
<rect x="1243.5" y="545.4" width="7" height="7" fill="#b0f0e0"/><text x="1269" y="554.9">O153</text>
<rect x="1243.5" y="578.7" width="7" height="7" fill="#f8d8f8"/><text x="1269" y="588.2">O154</text>
<rect x="1243.5" y="611.9" width="7" height="7" fill="#eeaacc"/><text x="1269" y="621.4">O156</text>
<rect x="1243.5" y="645.2" width="7" height="7" fill="#f8b8cc"/><text x="1269" y="654.7">O179</text>
<rect x="1243.5" y="678.4" width="7" height="7" fill="#a8a8d0"/><text x="1269" y="687.9">O173</text>
</g>
</g>

<g id="legend-htype">
<rect class="box" x="1245" y="782" width="75" height="431"/>
<text class="lt" x="1251" y="802" font-size="17">H-Type</text>
<line class="ul" x1="1249" y1="811" x2="1317" y2="811"/>
<g class="l17">
<rect x="1258.5" y="825.5" width="7" height="7" fill="#b8ecd8"/><text x="1284" y="835">H7</text>
<rect x="1258.5" y="858.8" width="7" height="7" fill="#b8f0f8"/><text x="1284" y="868.3">H8</text>
<rect x="1258.5" y="892" width="7" height="7" fill="#fcd0bc"/><text x="1284" y="901.5">H10</text>
<rect x="1258.5" y="925.3" width="7" height="7" fill="#d8f8b0"/><text x="1284" y="934.8">H11</text>
<rect x="1258.5" y="958.6" width="7" height="7" fill="#fcb8b0"/><text x="1284" y="968.1">H12</text>
<rect x="1258.5" y="991.8" width="7" height="7" fill="#dcc8c8"/><text x="1284" y="1001.3">H15</text>
<rect x="1258.5" y="1025.1" width="7" height="7" fill="#c0f0f8"/><text x="1284" y="1034.6">H16</text>
<rect x="1258.5" y="1058.4" width="7" height="7" fill="#d0f8b8"/><text x="1284" y="1067.9">H18</text>
<rect x="1258.5" y="1091.7" width="7" height="7" fill="#a8a8a8"/><text x="1284" y="1101.2">H19</text>
<rect x="1258.5" y="1124.9" width="7" height="7" fill="#b8e0c8"/><text x="1284" y="1134.4">H21</text>
<rect x="1258.5" y="1158.2" width="7" height="7" fill="#3a55ff"/><text x="1284" y="1167.7">H48</text>
<rect x="1258.5" y="1191.5" width="7" height="7" fill="#7a1a3a"/><text x="1284" y="1201">H55</text>
</g>
</g>
</svg>
